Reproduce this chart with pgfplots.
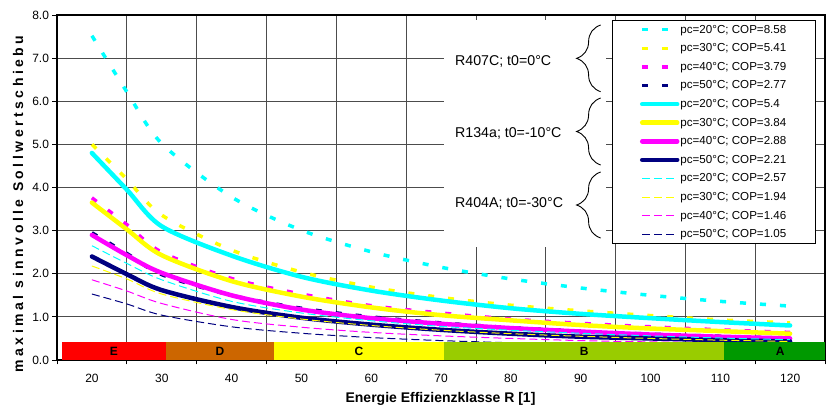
\documentclass[border=0pt]{standalone}
\usepackage{pgfplots}
\pgfplotsset{compat=1.18}
\usepackage{pgfplotstable}
\usepackage{fontspec}
\setmainfont{Liberation Sans}
\usetikzlibrary{decorations.pathreplacing}
\definecolor{ccyan}{RGB}{0,255,255}
\definecolor{cyel}{RGB}{255,255,0}
\definecolor{cmag}{RGB}{255,0,255}
\definecolor{cnavy}{RGB}{0,0,128}
\definecolor{clE}{RGB}{255,0,0}
\definecolor{clD}{RGB}{204,102,0}
\definecolor{clC}{RGB}{255,255,0}
\definecolor{clB}{RGB}{153,204,0}
\definecolor{clA}{RGB}{0,153,0}

\pgfplotstableread{
R a20 a30 a40 a50 b20 b30 b40 b50 c20 c30 c40 c50
20 7.52 5.00 3.76 2.95 4.80 3.65 2.90 2.40 2.65 2.18 1.86 1.53
25 6.22 4.19 3.14 2.47 3.95 3.03 2.43 1.99 2.24 1.88 1.60 1.30
30 5.02 3.36 2.50 1.98 3.10 2.43 2.02 1.62 1.86 1.53 1.31 1.04
40 3.78 2.55 1.89 1.50 2.42 1.83 1.50 1.23 1.36 1.17 0.94 0.77
50 3.01 2.04 1.53 1.20 1.93 1.47 1.17 0.98 1.09 0.95 0.76 0.62
60 2.51 1.69 1.26 1.00 1.61 1.22 0.97 0.82 0.91 0.80 0.64 0.52
70 2.15 1.45 1.09 0.86 1.38 1.04 0.84 0.70 0.78 0.69 0.56 0.45
80 1.88 1.27 0.95 0.75 1.20 0.92 0.74 0.61 0.69 0.61 0.50 0.40
90 1.67 1.14 0.85 0.67 1.07 0.81 0.66 0.54 0.62 0.55 0.45 0.36
100 1.50 1.03 0.77 0.60 0.97 0.73 0.59 0.50 0.56 0.50 0.42 0.33
110 1.36 0.93 0.70 0.55 0.88 0.67 0.54 0.46 0.51 0.46 0.40 0.30
120 1.25 0.86 0.64 0.50 0.80 0.61 0.50 0.43 0.47 0.43 0.38 0.28
}\data

\tikzset{
  dotst/.style={line width=3.5pt, dash pattern=on 6pt off 14pt, line cap=butt},
  solst/.style={line width=4.5pt, line join=round, line cap=round},
  thinst/.style={line width=1pt, dash pattern=on 8pt off 4pt},
}

\begin{document}
\begin{tikzpicture}
\begin{axis}[
  at={(0,0)}, anchor=south west, scale only axis,
  width=768pt, height=345pt,
  xmin=15, xmax=125, ymin=0, ymax=8,
  clip=false,
  axis line style={line width=1.5pt},
  xtick={15,25,...,125},
  xticklabels={20,30,40,50,60,70,80,90,100,110,120,{}},
  xticklabel style={xshift=35pt, yshift=-6pt},
  ytick={0,1,...,8},
  xtick pos=bottom, ytick pos=left,
  tick align=outside,
  major tick length=4.5pt,
  xmajorgrids=true, ymajorgrids=true,
  grid style={black!70, line width=0.8pt},
  tick style={black, line width=0.8pt},
  ticklabel style={font=\fontsize{12}{14}\selectfont},
  yticklabel style={/pgf/number format/.cd, fixed, fixed zerofill, precision=1},
  /pgf/number format/assume math mode=true,
  legend cell align=left,
  legend style={at={(axis cs:94.43,7.884)}, anchor=north west, draw=black, line width=0.8pt,
    fill=white, inner xsep=28pt, inner ysep=0pt, row sep=0pt,
    font=\fontsize{11.6}{13}\selectfont,
    nodes={inner xsep=1pt, inner ysep=0pt, minimum height=18.6pt}},
  legend image code/.code={\draw[#1] (0pt,0pt) -- (35pt,0pt);},
]
% R407C
\addplot[ccyan, dotst, smooth] table[x=R, y=a20] {\data};
\addlegendentry{pc=20°C; COP=8.58}
\addplot[cyel, dotst, smooth] table[x=R, y=a30] {\data};
\addlegendentry{pc=30°C; COP=5.41}
\addplot[cmag, dotst, smooth] table[x=R, y=a40] {\data};
\addlegendentry{pc=40°C; COP=3.79}
\addplot[cnavy, dotst, smooth] table[x=R, y=a50] {\data};
\addlegendentry{pc=50°C; COP=2.77}
% R134a
\addplot[ccyan, solst, smooth] table[x=R, y=b20] {\data};
\addlegendentry{pc=20°C; COP=5.4}
\addplot[cyel, solst, smooth] table[x=R, y=b30] {\data};
\addlegendentry{pc=30°C; COP=3.84}
\addplot[cmag, solst, smooth] table[x=R, y=b40] {\data};
\addlegendentry{pc=40°C; COP=2.88}
\addplot[cnavy, solst, smooth] table[x=R, y=b50] {\data};
\addlegendentry{pc=50°C; COP=2.21}
% R404A
\addplot[ccyan, thinst, smooth] table[x=R, y=c20] {\data};
\addlegendentry{pc=20°C; COP=2.57}
\addplot[cyel, thinst, smooth] table[x=R, y=c30] {\data};
\addlegendentry{pc=30°C; COP=1.94}
\addplot[cmag, thinst, smooth] table[x=R, y=c40] {\data};
\addlegendentry{pc=40°C; COP=1.46}
\addplot[cnavy, thinst, smooth] table[x=R, y=c50] {\data};
\addlegendentry{pc=50°C; COP=1.05}

% energy classes band
\addplot[fill=clE, draw=none, forget plot] coordinates {(15.7,0.42) (30.6,0.42)} \closedcycle;
\addplot[fill=clD, draw=none, forget plot] coordinates {(30.6,0.42) (46.1,0.42)} \closedcycle;
\addplot[fill=clC, draw=none, forget plot] coordinates {(46.1,0.42) (70.4,0.42)} \closedcycle;
\addplot[fill=clB, draw=none, forget plot] coordinates {(70.4,0.42) (110.6,0.42)} \closedcycle;
\addplot[fill=clA, draw=none, forget plot] coordinates {(110.6,0.42) (125,0.42)} \closedcycle;
\node[font=\bfseries\fontsize{12}{14}\selectfont] at (axis cs:23.15,0.2) {E};
\node[font=\bfseries\fontsize{12}{14}\selectfont] at (axis cs:38.35,0.2) {D};
\node[font=\bfseries\fontsize{12}{14}\selectfont] at (axis cs:58.25,0.2) {C};
\node[font=\bfseries\fontsize{12}{14}\selectfont] at (axis cs:90.5,0.2) {B};
\node[font=\bfseries\fontsize{12}{14}\selectfont] at (axis cs:118.6,0.2) {A};

% annotation box
\fill[white] (axis cs:70.4,2.62) rectangle (axis cs:93.6,7.88);
\node[anchor=west, inner sep=0pt, font=\fontsize{14.2}{16}\selectfont] at (axis cs:72.0,6.917) {R407C; t0=0°C};
\node[anchor=west, inner sep=0pt, font=\fontsize{14.2}{16}\selectfont] at (axis cs:72.0,5.256) {R134a; t0=-10°C};
\node[anchor=west, inner sep=0pt, font=\fontsize{14.2}{16}\selectfont] at (axis cs:72.0,3.633) {R404A; t0=-30°C};
\draw[decorate, decoration={brace, amplitude=24pt, aspect=0.5}, line width=0.9pt] (axis cs:92.86,6.221) -- (axis cs:92.86,7.768);
\draw[decorate, decoration={brace, amplitude=24pt, aspect=0.5}, line width=0.9pt] (axis cs:92.86,4.522) -- (axis cs:92.86,6.075);
\draw[decorate, decoration={brace, amplitude=24pt, aspect=0.5}, line width=0.9pt] (axis cs:92.86,2.829) -- (axis cs:92.86,4.359);

% axis titles
\node[rotate=90, anchor=west, font=\bfseries\fontsize{14}{16}\selectfont\addfontfeature{LetterSpace=25}] at (axis cs:9.43,-0.371) {maximal sinnvolle Sollwertschiebu};
\node[font=\bfseries\fontsize{14}{16}\selectfont] at (axis cs:69.93,-0.9) {Energie Effizienzklasse R [1]};
\end{axis}
\pgfresetboundingbox
\path (-57pt,-49pt) rectangle (769pt,360pt);
\end{tikzpicture}
\end{document}
